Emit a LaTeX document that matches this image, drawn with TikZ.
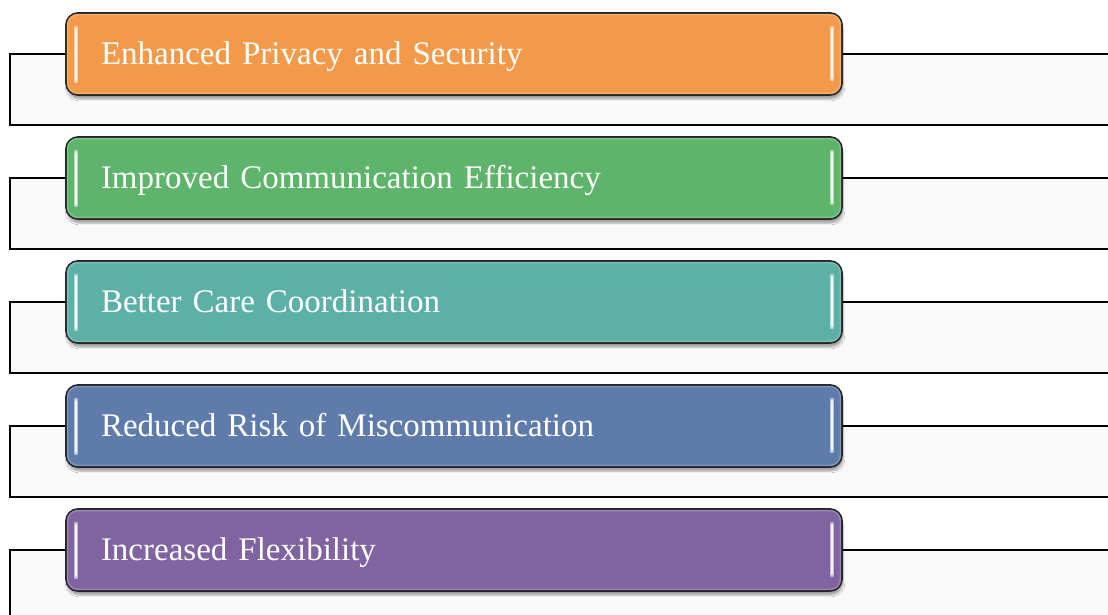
\documentclass[tikz,border=0pt]{standalone}
\usepackage{fontspec}
\setmainfont{Liberation Serif}
\usetikzlibrary{shadows.blur}
\definecolor{cOrange}{HTML}{F39A4A}
\definecolor{cGreen}{HTML}{5EB46A}
\definecolor{cTeal}{HTML}{5CB0A5}
\definecolor{cBlue}{HTML}{5F7BAB}
\definecolor{cPurple}{HTML}{8064A2}
\definecolor{panel}{HTML}{F9F9F9}
\tikzset{
  benefit/.style={draw=black!85, line width=1.8pt, rounded corners=12pt,
    fill=#1, minimum width=776pt, minimum height=82pt, text width=706pt,
    inner xsep=35pt, align=left, text=white, text height=24pt, text depth=4pt,
    font=\fontsize{33}{36}\selectfont,
    blur shadow={shadow xshift=1pt, shadow yshift=-4pt, shadow blur steps=6, shadow opacity=35}},
  rim/.style={draw=#1!70!white, line width=1.5pt, rounded corners=10pt, opacity=0.7},
  link/.style={draw=black, line width=1.8pt},
  backpanel/.style={fill=panel, draw=none},
  gloss/.style={line width=4.5pt, line cap=round, draw=#1!45!white},
  glosscore/.style={line width=1.8pt, line cap=round, draw=#1!8!white}
}
\begin{document}
\begin{tikzpicture}[x=1pt,y=-1pt]
\useasboundingbox (0,0) rectangle (1108,614);
\foreach \i/\lab/\col in {1/Enhanced Privacy and Security/cOrange,
                          2/Improved Communication Efficiency/cGreen,
                          3/Better Care Coordination/cTeal,
                          4/Reduced Risk of Miscommunication/cBlue,
                          5/Increased Flexibility/cPurple}{
  \pgfmathsetmacro{\yc}{54+124*(\i-1)}
  % panel behind each item, bounded by the connector
  \coordinate (tl\i) at (10,\yc);
  \coordinate (bl\i) at (10,\yc+71);
  \coordinate (br\i) at (1112,\yc+71);
  \coordinate (tr\i) at (1112,\yc);
  \fill[backpanel] (tl\i) rectangle (br\i);
  % item box
  \node[benefit=\col] (b\i) at (454,\yc) {\lab};
  \draw[rim=\col] ([shift={(2.5pt,-2.5pt)}]b\i.north west) rectangle ([shift={(-2.5pt,2.5pt)}]b\i.south east);
  % glossy edge highlights
  \draw[gloss=\col] ([xshift=11pt,yshift=-27pt]b\i.west) -- ([xshift=11pt,yshift=26pt]b\i.west);
  \draw[glosscore=\col] ([xshift=11pt,yshift=-26pt]b\i.west) -- ([xshift=11pt,yshift=25pt]b\i.west);
  \draw[gloss=\col] ([xshift=-11pt,yshift=-25pt]b\i.east) -- ([xshift=-11pt,yshift=26pt]b\i.east);
  \draw[glosscore=\col] ([xshift=-11pt,yshift=-24pt]b\i.east) -- ([xshift=-11pt,yshift=25pt]b\i.east);
  % connectors
  \draw[link] (b\i.west) -- (tl\i) -- (bl\i) -- (br\i);
  \draw[link] (b\i.east) -- (tr\i);
}
\end{tikzpicture}
\end{document}
